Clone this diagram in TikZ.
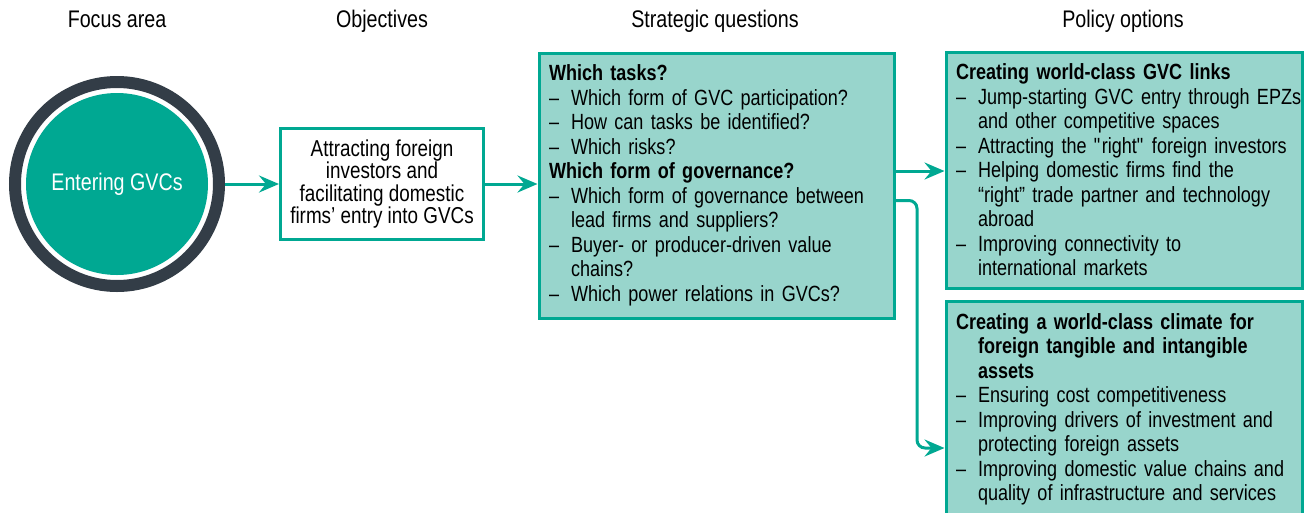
\documentclass[tikz,border=0pt]{standalone}
\usepackage{fontspec}
\setmainfont{Liberation Sans}[FakeStretch=0.82]
\usetikzlibrary{arrows.meta}
\definecolor{gvcteal}{RGB}{0,168,146}
\definecolor{gvclight}{RGB}{152,213,204}
\definecolor{gvcdark}{RGB}{51,61,71}
\newcommand\qdash{\makebox[22pt][l]{--}}
\newcommand\qind{\hspace*{22pt}}

\begin{document}
\begin{tikzpicture}[x=1pt,y=-1pt,
  every node/.style={font=\fontsize{22}{24.5}\selectfont},
  head/.style={anchor=base,font=\fontsize{24}{26}\selectfont},
  objbox/.style={draw=gvcteal,line width=3pt,fill=white,align=center,minimum width=203,minimum height=111,inner sep=0pt,font=\fontsize{23}{22.5}\selectfont},
  qbox/.style={draw=gvcteal,line width=3pt,fill=gvclight,align=left,anchor=north west,inner xsep=10pt,inner ysep=0pt},
  arr/.style={gvcteal,line width=3pt,-{Stealth[length=20pt,width=17pt,inset=7pt]}}]
\path[use as bounding box] (0,0) rectangle (1305,512);
\clip (0,0) rectangle (1305,512);
\node[head] (hfocus) at (117,27) {Focus area};
\node[head] (hobj) at (382,27) {Objectives};
\node[head] (hstrat) at (715,27) {Strategic questions};
\node[head] (hpol) at (1123,27) {Policy options};
\node (focus) [circle,draw=gvcdark,line width=12pt,fill=white,minimum size=204,inner sep=0pt] at (117,184) {};
\node (core) [circle,fill=gvcteal,minimum size=182,inner sep=0pt,text=white,font=\fontsize{24}{26}\selectfont] at (focus.center) {Entering GVCs};
\node (obj) [objbox] at (382,184) {Attracting foreign\\investors and\\facilitating domestic\\firms’ entry into GVCs};
\node (strat) [qbox,minimum width=355,minimum height=265,text width=335] at (537.5,51.5) {%
{\bfseries Which tasks?}\\
\qdash Which form of GVC participation?\\
\qdash How can tasks be identified?\\
\qdash Which risks?\\
{\bfseries Which form of governance?}\\
\qdash Which form of governance between\\
\qind lead firms and suppliers?\\
\qdash Buyer- or producer-driven value\\
\qind chains?\\
\qdash Which power relations in GVCs?};
\node (pol1) [qbox,minimum width=356,minimum height=236,text width=336] at (944.5,50.5) {%
{\bfseries Creating world-class GVC links}\\
\qdash\mbox{Jump-starting GVC entry through EPZs}\\
\qind and other competitive spaces\\
\qdash\mbox{Attracting the \textquotedbl right\textquotedbl\ foreign investors}\\
\qdash Helping domestic firms find the\\
\qind “right” trade partner and technology\\
\qind abroad\\
\qdash Improving connectivity to\\
\qind international markets};
\node (pol2) [qbox,minimum width=356,minimum height=217,text width=336] at (944.5,299.5) {%
{\bfseries Creating a world-class climate for}\\
\qind{\bfseries foreign tangible and intangible}\\
\qind{\bfseries assets}\\
\qdash Ensuring cost competitiveness\\
\qdash Improving drivers of investment and\\
\qind protecting foreign assets\\
\qdash Improving domestic value chains and\\
\qind\mbox{quality of infrastructure and services}};
\coordinate (bend) at (917,448);
\draw[arr] (focus.east) -- (obj.west);
\draw[arr] (obj.east) -- (obj.east -| strat.west);
\draw[arr] (strat.east |- 0,171) -- (pol1.west |- 0,171);
\draw[arr,rounded corners=8pt] ([yshift=-15pt]strat.east) -| (bend) -- (pol2.west |- bend);
\end{tikzpicture}
\end{document}
